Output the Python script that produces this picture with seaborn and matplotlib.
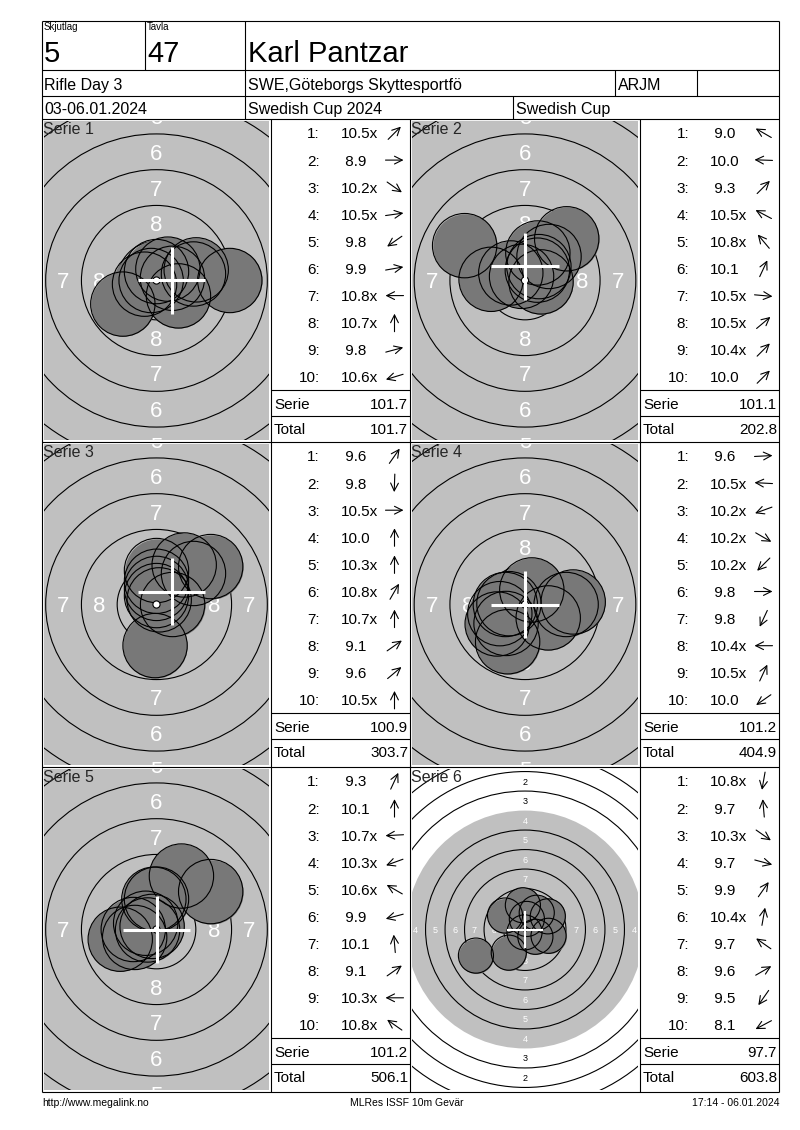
import numpy as np
import pandas as pd
import matplotlib
matplotlib.use("Agg")
import matplotlib.pyplot as plt
from matplotlib.patches import Circle
import seaborn as sns

# score card header
skjutlag = "5"
tavla = "47"
name = "Karl Pantzar"
event = "Rifle Day 3"
club = "SWE,Göteborgs Skyttesportfö"
klass = "ARJM"
dates = "03-06.01.2024"
competition = "Swedish Cup 2024"
cup = "Swedish Cup"
footer_left = "http://www.megalink.no"
footer_mid = "MLRes ISSF 10m Gevär"
footer_right = "17:14 - 06.01.2024"

# shots per serie: score and direction of the shot from the centre
# (degrees, counter clockwise from 3 o'clock, read from the arrows)
s1_scores = ["10.5x", "8.9", "10.2x", "10.5x", "9.8", "9.9", "10.8x", "10.7x", "9.8", "10.6x"]
s1_dirs = [45, 0, -35, 8, -145, 10, 180, 90, 15, -163]
s2_scores = ["9.0", "10.0", "9.3", "10.5x", "10.8x", "10.1", "10.5x", "10.5x", "10.4x", "10.0"]
s2_dirs = [150, 178, 45, 152, 130, 65, -5, 40, 45, 45]
s3_scores = ["9.6", "9.8", "10.5x", "10.0", "10.3x", "10.8x", "10.7x", "9.1", "9.6", "10.5x"]
s3_dirs = [55, -92, 0, 90, 90, 60, 90, 35, 40, 90]
s4_scores = ["9.6", "10.5x", "10.2x", "10.2x", "10.2x", "9.8", "9.8", "10.4x", "10.5x", "10.0"]
s4_dirs = [3, 177, -160, -30, -135, 0, -115, 180, 65, -145]
s5_scores = ["9.3", "10.1", "10.7x", "10.3x", "10.6x", "9.9", "10.1", "9.1", "10.3x", "10.8x"]
s5_dirs = [65, 90, 183, -160, 150, -165, 95, 35, 180, 145]
s6_scores = ["10.8x", "9.7", "10.3x", "9.7", "9.9", "10.4x", "9.7", "9.6", "9.5", "8.1"]
s6_dirs = [-100, 95, -35, -15, 55, 80, 145, 30, -125, -152]

# white cross (mm from centre) as shown on each target
cross_x = [1.05, 0.0, 1.05, 0.0, 0.0, 0.0]
cross_y = [0.0, 1.0, 0.9, 0.0, 0.0, 0.0]

series_scores = [s1_scores, s2_scores, s3_scores, s4_scores, s5_scores, s6_scores]
series_dirs = [s1_dirs, s2_dirs, s3_dirs, s4_dirs, s5_dirs, s6_dirs]

# drawing scale of each target (pixels per mm) and ring number size
zooms = [14.3, 14.3, 14.3, 14.3, 14.3, 7.8]
label_sizes = [16, 16, 16, 16, 16, 6.5]

sns.set_theme(style="white")
plt.rcParams["font.family"] = ["Liberation Sans", "DejaVu Sans"]

W, H = 800, 1130
fig = plt.figure(figsize=(W / 100, H / 100), dpi=100)
page = fig.add_axes([0, 0, 1, 1])
page.set_xlim(0, W)
page.set_ylim(H, 0)
page.axis("off")
page.set_zorder(5)

LW = 0.8


def line(x0, y0, x1, y1):
    page.plot([x0, x1], [y0, y1], color="black", lw=LW, solid_capstyle="butt")


def put(x, yc, s, size, ha="left"):
    # yc = middle of the digits / capitals
    base = yc + 0.716 * size * 100 / 72 / 2
    page.text(x, base, s, fontsize=size, ha=ha, va="baseline", color="black")


# frame and header grid
L, R, T, B = 42, 779, 21, 1092
line(L, T, R, T)
line(L, B, R, B)
line(L, T, L, B)
line(R, T, R, B)
for y in (70, 96, 119, 442, 767):
    line(L, y, R, y)
line(145, T, 145, 70)
line(245, T, 245, 119)
line(615, 70, 615, 96)
line(697, 70, 697, 96)
line(513, 96, 513, 119)
for x in (271, 410, 640):
    line(x, 119, x, B)

put(44, 27, "Skjutlag", 7)
put(147, 27, "Tavla", 7)
put(44, 52, skjutlag, 21)
put(147, 52, tavla, 21)
put(248, 52, name, 21)
put(44, 84, event, 11.5)
put(248, 84, club, 11.5)
put(618, 84, klass, 11.5)
put(44, 108, dates, 11.5)
put(248, 108, competition, 11.5)
put(516, 108, cup, 11.5)

put(42, 1102, footer_left, 7.5)
put(407, 1102, footer_mid, 7.5, ha="center")
put(779, 1102, footer_right, 7.5, ha="right")

row_edges = [119, 442, 767, 1092]
cols = [(42, 271, 410), (410, 640, 779)]

total = 0.0
for k in range(6):
    top, bottom = row_edges[k // 2], row_edges[k // 2 + 1]
    tgt_l, tab_l, tab_r = cols[k % 2]
    scores = series_scores[k]
    dirs = np.radians(series_dirs[k])
    vals = np.array([float(s.rstrip("x")) for s in scores])
    serie = round(vals.sum(), 1)
    total = round(total + serie, 1)

    # ---- table ----
    for i, sc in enumerate(scores):
        yc = top + 14 + 27.1 * i
        put(tab_l + 49, yc, f"{i + 1}:", 11, ha="right")
        put(tab_l + 70, yc, sc if vals[i] >= 10 else " " + sc, 11)
        cx = tab_l + 123.5
        dx, dy = 9 * np.cos(dirs[i]), -9 * np.sin(dirs[i])
        page.annotate("", xy=(cx + dx, yc + dy), xytext=(cx - dx, yc - dy),
                      arrowprops=dict(arrowstyle="->,head_length=0.7,head_width=0.35",
                                      lw=0.8, color="black", shrinkA=0, shrinkB=0,
                                      mutation_scale=8))
    line(tab_l, top + 271, tab_r, top + 271)
    line(tab_l, top + 297, tab_r, top + 297)
    put(tab_l + 3, top + 284.5, "Serie", 11)
    put(tab_r - 2, top + 284.5, f"{serie:.1f}", 11, ha="right")
    put(tab_l + 3, top + 310, "Total", 11)
    put(tab_r - 2, top + 310, f"{total:.1f}", 11, ha="right")
    page.text(tgt_l + 1, top + 15, f"Serie {k + 1}", fontsize=11.5, va="baseline")

    # ---- target ----
    x0, x1, y0, y1 = tgt_l + 2, tab_l - 2, top + 2, bottom - 2
    ax = fig.add_axes([x0 / W, 1 - y1 / H, (x1 - x0) / W, (y1 - y0) / H])
    scale = zooms[k]
    hw, hh = (x1 - x0) / 2 / scale, (y1 - y0) / 2 / scale

    ax.add_patch(Circle((0, 0), 15.25, fc="#c0c0c0", ec="none", zorder=0))
    for n in range(1, 10):
        if n == 4:
            continue
        ax.add_patch(Circle((0, 0), 22.75 - 2.5 * (n - 1), fill=False,
                            ec="black", lw=0.8, zorder=1))
    fs = label_sizes[k]
    off = 0.716 * fs * 100 / 72 / 2 / scale
    for n in range(1, 9):
        d = 24 - 2.5 * n
        col = "white" if n >= 4 else "black"
        for px, py in [(0, d), (0, -d), (d, 0), (-d, 0)]:
            ax.text(px, py - off, str(n), ha="center", va="baseline", fontsize=fs,
                    color=col, zorder=2, clip_on=True)

    dist = np.clip((10.95 - vals) * 2.5, 0, None)
    shots = pd.DataFrame({"x": dist * np.cos(dirs), "y": dist * np.sin(dirs)})
    size = (4.5 * scale * 0.72) ** 2
    sns.scatterplot(data=shots, x="x", y="y", s=size, color="#787878",
                    linewidth=0, zorder=3, legend=False, ax=ax)
    sns.scatterplot(data=shots, x="x", y="y", s=size, facecolor="none",
                    edgecolor="black", linewidth=0.8, zorder=4, legend=False, ax=ax)

    ax.add_patch(Circle((0, 0), 0.25, fc="white", ec="black", lw=0.8, zorder=5))
    mx, my = cross_x[k], cross_y[k]
    clw = 2.2 if scale > 10 else 1.5
    ax.plot([mx - 2.35, mx + 2.35], [my, my], color="white", lw=clw,
            solid_capstyle="butt", zorder=6)
    ax.plot([mx, mx], [my - 2.35, my + 2.35], color="white", lw=clw,
            solid_capstyle="butt", zorder=6)

    ax.set_xlim(-hw, hw)
    ax.set_ylim(-hh, hh)
    ax.axis("off")

fig.savefig("out.png", dpi=100)
